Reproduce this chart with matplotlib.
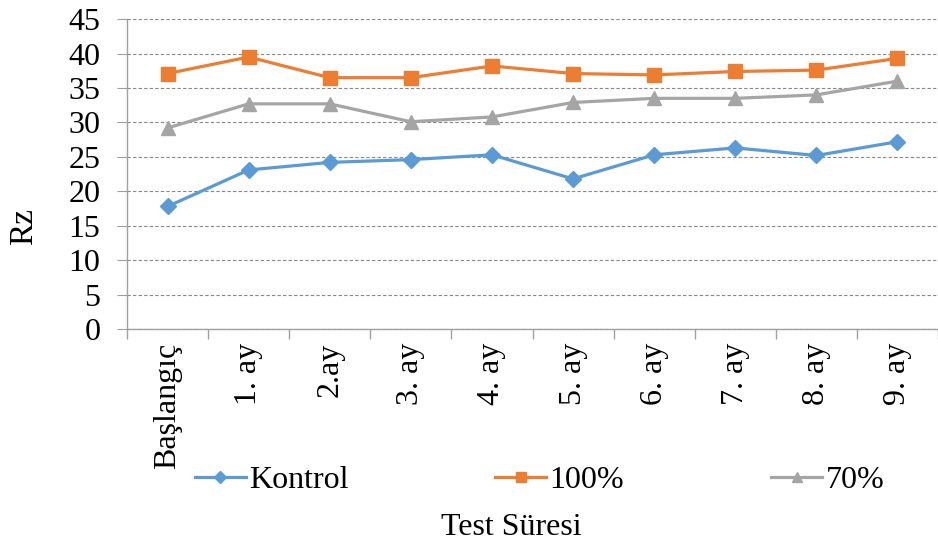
import matplotlib
matplotlib.use("Agg")
import matplotlib.pyplot as plt
import numpy as np

categories = ["Başlangıç", "1. ay", "2.ay", "3. ay", "4. ay", "5. ay", "6. ay", "7. ay", "8. ay", "9. ay"]
kontrol = [17.8, 23.1, 24.2, 24.6, 25.3, 21.8, 25.3, 26.3, 25.2, 27.2]
yuzde100 = [37.1, 39.5, 36.5, 36.5, 38.2, 37.1, 36.9, 37.4, 37.6, 39.3]
yuzde70 = [29.2, 32.7, 32.7, 30.1, 30.8, 32.9, 33.5, 33.5, 34.0, 36.0]
yticks = [0, 5, 10, 15, 20, 25, 30, 35, 40, 45]

plt.rcParams['font.family'] = ['Liberation Serif', 'DejaVu Serif']

fig = plt.figure(figsize=(9.38, 5.47), dpi=100)
ax = fig.add_axes([0.1354, 0.3985, 0.8646, 0.5665])

x = np.arange(len(categories))
ax.plot(x, kontrol, color='#5B9BD5', lw=2.3, marker='D', ms=8.5, label='Kontrol')
ax.plot(x, yuzde100, color='#ED7D31', lw=2.3, marker='s', ms=9.5, label='100%')
ax.plot(x, yuzde70, color='#A5A5A5', lw=2.3, marker='^', ms=10.5, label='70%')

ax.set_xlim(-0.5, len(categories) - 0.5)
ax.set_ylim(0, 45)
ax.set_yticks(yticks)
ax.set_yticklabels([str(v) for v in yticks], fontsize=23)
ax.yaxis.grid(True, color='#888888', ls=(0, (3, 2)), lw=0.8)
ax.set_axisbelow(True)

ax.set_xticks(x)
ax.set_xticklabels(categories, rotation=90, fontsize=23, va='top')
ax.set_xticks(np.arange(-0.5, len(categories) + 0.5, 1), minor=True)
ax.tick_params(axis='x', which='major', length=0, pad=10)
ax.tick_params(axis='x', which='minor', length=7, color='#A0A0A0', width=1)
ax.tick_params(axis='y', length=7, color='#A0A0A0', width=0.8, pad=12)

for s in ['top', 'right']:
    ax.spines[s].set_visible(False)
for s in ['left', 'bottom']:
    ax.spines[s].set_color('#A0A0A0')
    ax.spines[s].set_linewidth(1)

ax.set_ylabel('Rz', fontsize=24)
ax.yaxis.set_label_coords(-0.108, 0.33)

fig.text(0.545, 0.035, 'Test Süresi', fontsize=23, ha='center', va='center')

leg = fig.legend(loc='center', bbox_to_anchor=(0.575, 0.122), ncol=3, frameon=False,
                 fontsize=23, handlelength=1.6, handletextpad=0.1, columnspacing=4.6,
                 markerscale=0.75)

fig.savefig('out.png', dpi=100)
